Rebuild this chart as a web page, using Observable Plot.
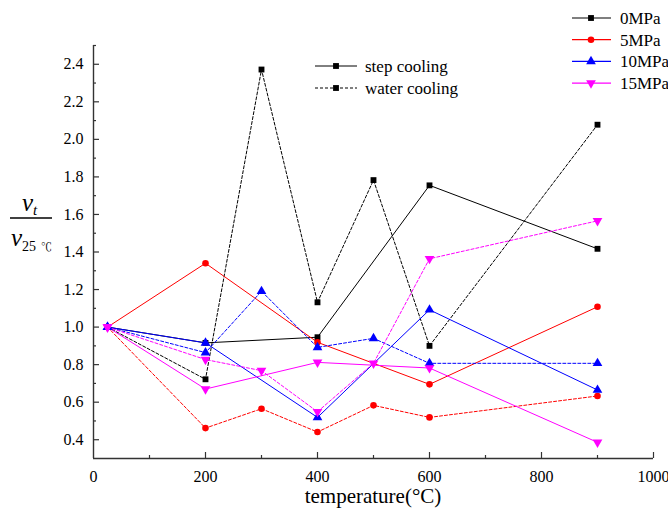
<!DOCTYPE html>
<html>
<head>
<meta charset="utf-8">
<script src="https://cdn.jsdelivr.net/npm/d3@7"></script>
<script src="https://cdn.jsdelivr.net/npm/@observablehq/plot@0.6"></script>
<style>
  html, body { margin: 0; padding: 0; background: #fff; }
  #wrap { position: relative; width: 668px; height: 517px; }
  #overlay { position: absolute; left: 0; top: 0; pointer-events: none; }
</style>
</head>
<body>
<div id="wrap"></div>
<script>
// ---- data ----
const stepTemps = [25, 200, 400, 600, 900];
const waterTemps = [25, 200, 300, 400, 500, 600, 900];
const step0 = [1.0, 0.916, 0.946, 1.755, 1.417];
const step5 = [1.0, 1.34, 0.919, 0.695, 1.108];
const step10 = [1.0, 0.916, 0.519, 1.092, 0.665];
const step15 = [1.0, 0.67, 0.812, 0.782, 0.386];
const water0 = [1.0, 0.722, 2.372, 1.132, 1.783, 0.9, 2.078];
const water5 = [1.0, 0.462, 0.565, 0.441, 0.583, 0.519, 0.633];
const water10 = [1.0, 0.864, 1.191, 0.892, 0.94, 0.807, 0.807];
const water15 = [1.0, 0.827, 0.768, 0.549, 0.807, 1.364, 1.566];
const pressures = ["0MPa", "5MPa", "10MPa", "15MPa"];
const coolings = ["step cooling", "water cooling"];
const xTicks = [0, 200, 400, 600, 800, 1000];
const xMinor = [100, 300, 500, 700, 900];
const yTicks = [0.4, 0.6, 0.8, 1.0, 1.2, 1.4, 1.6, 1.8, 2.0, 2.2, 2.4];
const yMinor = [0.5, 0.7, 0.9, 1.1, 1.3, 1.5, 1.7, 1.9, 2.1, 2.3, 2.5];

// ---- styles ----
const FONT = "Liberation Serif";
const colors = ["#000000", "#ff0000", "#0000ff", "#ff00ff"];
const sqrt3 = Math.sqrt(3);
const triangleDown = {
  draw(context, size) {
    const y = Math.sqrt(size / (sqrt3 * 3));
    context.moveTo(0, y * 2);
    context.lineTo(-sqrt3 * y, -y);
    context.lineTo(sqrt3 * y, -y);
    context.closePath();
  }
};
const symbols = ["square", "circle", "triangle", triangleDown];
const radii = [3.3, 3.3, 3.6, 3.6];
const dash = "3,2";

const stepSeries = [step0, step5, step10, step15];
const waterSeries = [water0, water5, water10, water15];

const marks = [];
// axis lines
marks.push(Plot.ruleY([0.3], {stroke: "#333", strokeWidth: 1.6}));
marks.push(Plot.ruleX([0], {stroke: "#333", strokeWidth: 1.4}));
// inward ticks
marks.push(Plot.ruleX(xTicks.slice(1), {x: d => d, y1: 0.3, y2: 0.3, insetBottom: 6, stroke: "#333", strokeWidth: 1.2}));
marks.push(Plot.ruleX(xMinor, {x: d => d, y1: 0.3, y2: 0.3, insetBottom: 3, stroke: "#333", strokeWidth: 1.2}));
marks.push(Plot.ruleY(yTicks, {y: d => d, x1: 0, x2: 0, insetRight: -6, stroke: "#333", strokeWidth: 1.2}));
marks.push(Plot.ruleY(yMinor, {y: d => d, x1: 0, x2: 0, insetRight: -3, stroke: "#333", strokeWidth: 1.2}));
// tick labels
marks.push(Plot.axisX(xTicks, {tickSize: 0, tickPadding: 12, fontSize: 16, fontFamily: FONT, label: null, tickFormat: d => String(d)}));
marks.push(Plot.axisY(yTicks, {tickSize: 0, tickPadding: 10, fontSize: 16, fontFamily: FONT, label: null, tickFormat: d3.format(".1f")}));

for (let k = 0; k < 4; k++) {
  const sData = stepTemps.map((t, i) => ({t, v: stepSeries[k][i]}));
  const wData = waterTemps.map((t, i) => ({t, v: waterSeries[k][i]}));
  marks.push(Plot.line(sData, {x: "t", y: "v", stroke: colors[k], strokeWidth: 1}));
  marks.push(Plot.line(wData, {x: "t", y: "v", stroke: colors[k], strokeWidth: 1, strokeDasharray: dash}));
}
for (let k = 0; k < 4; k++) {
  const sData = stepTemps.map((t, i) => ({t, v: stepSeries[k][i]}));
  const wData = waterTemps.map((t, i) => ({t, v: waterSeries[k][i]}));
  marks.push(Plot.dot(sData, {x: "t", y: "v", symbol: symbols[k], r: radii[k], fill: colors[k], stroke: "none"}));
  marks.push(Plot.dot(wData, {x: "t", y: "v", symbol: symbols[k], r: radii[k], fill: colors[k], stroke: "none"}));
}

const chart = Plot.plot({
  width: 668,
  height: 517,
  marginLeft: 93,
  marginRight: 15,
  marginTop: 45,
  marginBottom: 59,
  style: {fontFamily: FONT, fontSize: "16px"},
  x: {domain: [0, 1000], axis: null},
  y: {domain: [0.3, 2.5], axis: null},
  marks
});
const wrap = document.getElementById("wrap");
wrap.appendChild(chart);

// ---- overlay: legends and axis titles ----
const svg = d3.select(wrap).append("svg")
  .attr("id", "overlay")
  .attr("width", 668).attr("height", 517);
const g = svg.append("g");
function txt(sel) {
  return sel.append("text").attr("font-family", FONT).style("font-family", "'Liberation Serif'");
}

// pressure legend
pressures.forEach((name, k) => {
  const y = 18 + k * 21.7;
  g.append("line").attr("x1", 572).attr("x2", 611).attr("y1", y).attr("y2", y)
    .attr("stroke", colors[k]).attr("stroke-width", 1.2);
  const sym = typeof symbols[k] === "string"
    ? {square: d3.symbolSquare, circle: d3.symbolCircle, triangle: d3.symbolTriangle}[symbols[k]]
    : symbols[k];
  g.append("path").attr("transform", `translate(591,${y})`)
    .attr("d", d3.symbol(sym, Math.PI * radii[k] * radii[k])())
    .attr("fill", colors[k]);
  txt(g).attr("x", 620).attr("y", y).attr("dy", "0.35em")
    .attr("font-size", 17).attr("fill", "#000").text(name);
});

// cooling legend
coolings.forEach((name, k) => {
  const y = 66 + k * 22;
  g.append("line").attr("x1", 315).attr("x2", 357).attr("y1", y).attr("y2", y)
    .attr("stroke", "#000").attr("stroke-width", 1)
    .attr("stroke-dasharray", k === 1 ? dash : null);
  g.append("path").attr("transform", `translate(336,${y})`)
    .attr("d", d3.symbol(d3.symbolSquare, Math.PI * radii[0] * radii[0])())
    .attr("fill", "#000");
  txt(g).attr("x", 365).attr("y", y).attr("dy", "0.35em")
    .attr("font-size", 17).attr("fill", "#000").text(name);
});

// x title
txt(g).attr("x", 373).attr("y", 503).attr("text-anchor", "middle")
  .attr("font-size", 21).attr("fill", "#000").text("temperature(°C)");

// y title: fraction v_t / v_25℃
g.append("line").attr("x1", 10).attr("x2", 52).attr("y1", 218).attr("y2", 218)
  .attr("stroke", "#000").attr("stroke-width", 1.5);
const num = txt(g).attr("x", 22).attr("y", 211).attr("font-size", 25).attr("fill", "#000");
num.append("tspan").attr("font-style", "italic").text("v");
num.append("tspan").attr("font-style", "italic").attr("font-size", 15).attr("dy", 4).text("t");
const den = txt(g).attr("x", 11).attr("y", 246).attr("font-size", 25).attr("fill", "#000");
den.append("tspan").attr("font-style", "italic").text("v");
den.append("tspan").attr("font-size", 14).attr("dy", 5).text("25");
g.append("text").attr("x", 41).attr("y", 251).attr("font-size", 11)
  .attr("font-family", "Noto Serif CJK SC").attr("fill", "#000").text("℃");
</script>
</body>
</html>
